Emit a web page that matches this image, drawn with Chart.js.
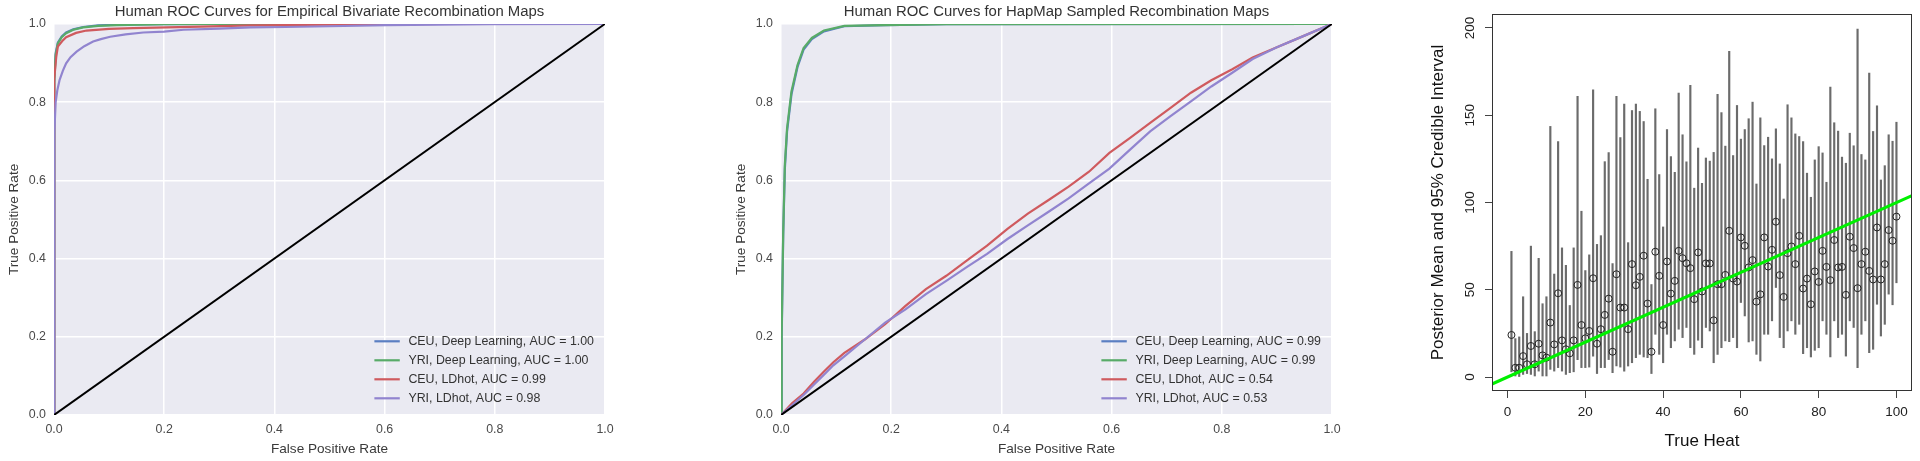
<!DOCTYPE html>
<html>
<head>
<meta charset="utf-8">
<script src="https://cdn.jsdelivr.net/npm/chart.js@4.4.1/dist/chart.umd.min.js"></script>
<style>
  html, body { margin: 0; padding: 0; background: #fff; }
  body { width: 1920px; height: 461px; position: relative; overflow: hidden; }
  .panel { position: absolute; top: 0; height: 461px; }
</style>
</head>
<body>
<div class="panel" style="left:0px; width:659px"><canvas id="empChart" width="659" height="461"></canvas></div>
<div class="panel" style="left:727px; width:659px"><canvas id="hapChart" width="659" height="461"></canvas></div>
<div class="panel" style="left:1390px; width:530px"><canvas id="heatChart" width="530" height="461"></canvas></div>
<script>
// ---------- ROC data: empirical bivariate maps ----------
const empCeuDLFpr = [0, 0, 0.001, 0.003, 0.007, 0.014, 0.022, 0.035, 0.053, 0.08, 0.114, 0.2, 0.3, 1];
const empCeuDLTpr = [0, 0.62, 0.86, 0.925, 0.952, 0.968, 0.978, 0.986, 0.992, 0.996, 0.998, 0.999, 1, 1];
const empYriDLFpr = [0, 0, 0.001, 0.003, 0.007, 0.014, 0.022, 0.035, 0.053, 0.08, 0.114, 0.2, 0.3, 1];
const empYriDLTpr = [0, 0.6, 0.85, 0.92, 0.95, 0.966, 0.976, 0.985, 0.991, 0.995, 0.997, 0.999, 1, 1];
const empCeuLDFpr = [0, 0, 0.001, 0.004, 0.007, 0.015, 0.022, 0.04, 0.059, 0.1, 0.144, 0.266, 0.357, 0.5, 0.7, 1];
const empCeuLDTpr = [0, 0.6, 0.86, 0.915, 0.942, 0.956, 0.966, 0.977, 0.983, 0.987, 0.989, 0.993, 0.996, 0.998, 1, 1];
const empYriLDFpr = [0, 0, 0.001, 0.003, 0.006, 0.010, 0.016, 0.022, 0.030, 0.041, 0.055, 0.071, 0.085, 0.102, 0.13, 0.162, 0.2, 0.235, 0.3, 0.357, 0.42, 0.5, 0.604, 0.79, 1];
const empYriLDTpr = [0, 0.5, 0.72, 0.80, 0.83, 0.856, 0.88, 0.899, 0.915, 0.929, 0.943, 0.955, 0.961, 0.967, 0.973, 0.978, 0.98, 0.985, 0.988, 0.991, 0.992, 0.994, 0.997, 0.999, 1];

// ---------- ROC data: HapMap sampled maps ----------
const hapCeuDLFpr = [0, 0.001, 0.0015, 0.004, 0.007, 0.011, 0.019, 0.030, 0.041, 0.056, 0.078, 0.115, 0.189, 0.3, 1];
const hapCeuDLTpr = [0, 0.1, 0.2, 0.46, 0.63, 0.725, 0.82, 0.89, 0.934, 0.961, 0.981, 0.994, 0.997, 0.999, 1];
const hapYriDLFpr = [0, 0.001, 0.0015, 0.004, 0.007, 0.011, 0.019, 0.030, 0.041, 0.056, 0.078, 0.115, 0.189, 0.3, 1];
const hapYriDLTpr = [0, 0.1, 0.21, 0.468, 0.64, 0.733, 0.827, 0.895, 0.938, 0.964, 0.983, 0.995, 0.997, 0.999, 1];
const hapLDFpr = [0, 0.02, 0.041, 0.06, 0.078, 0.095, 0.115, 0.152, 0.189, 0.226, 0.263, 0.3, 0.337, 0.374, 0.411, 0.448, 0.485, 0.522, 0.559, 0.596, 0.633, 0.670, 0.707, 0.744, 0.781, 0.819, 0.856, 0.9, 0.95, 1];
const hapCeuLDTpr = [0, 0.03, 0.055, 0.085, 0.111, 0.135, 0.159, 0.193, 0.232, 0.279, 0.322, 0.356, 0.395, 0.433, 0.476, 0.515, 0.549, 0.584, 0.622, 0.67, 0.708, 0.747, 0.785, 0.824, 0.856, 0.884, 0.914, 0.94, 0.97, 1];
const hapYriLDTpr = [0, 0.025, 0.051, 0.078, 0.103, 0.127, 0.15, 0.193, 0.236, 0.27, 0.309, 0.343, 0.378, 0.412, 0.45, 0.485, 0.519, 0.554, 0.592, 0.63, 0.678, 0.725, 0.764, 0.802, 0.84, 0.875, 0.91, 0.94, 0.97, 1];

const diagFpr = [0, 1];
const diagTpr = [0, 1];

const empLabels = ['CEU, Deep Learning, AUC = 1.00', 'YRI, Deep Learning, AUC = 1.00', 'CEU, LDhot, AUC = 0.99', 'YRI, LDhot, AUC = 0.98'];
const hapLabels = ['CEU, Deep Learning, AUC = 0.99', 'YRI, Deep Learning, AUC = 0.99', 'CEU, LDhot, AUC = 0.54', 'YRI, LDhot, AUC = 0.53'];
const rocColors = ['#5b7fc2', '#58ab68', '#cf5a5e', '#9184cf'];

// ---------- posterior credible intervals ----------
const trueHeat = [1,2,3,4,5,6,7,8,9,10,11,12,13,14,15,16,17,18,19,20,21,22,23,24,25,26,27,28,29,30,31,32,33,34,35,36,37,38,39,40,41,42,43,44,45,46,47,48,49,50,51,52,53,54,55,56,57,58,59,60,61,62,63,64,65,66,67,68,69,70,71,72,73,74,75,76,77,78,79,80,81,82,83,84,85,86,87,88,89,90,91,92,93,94,95,96,97,98,99,100];
const postMean = [24.1,5.3,5.3,12.0,7.3,17.8,7.3,19.1,12.4,11.1,31.2,18.7,48.0,21.0,15.9,13.6,21.0,52.8,29.8,22.2,
  26.4,56.6,19.1,27.4,35.6,44.9,14.5,58.9,39.8,39.8,27.4,64.7,52.6,57.4,69.5,42.1,14.5,71.8,58.0,29.8,
  66.2,47.8,55.1,72.3,68.1,65.2,62.4,44.6,71.4,49.0,65.1,65.1,32.5,53.2,53.2,58.5,83.8,56.4,54.7,80.0,
  75.2,62.8,67.0,43.2,47.4,80.0,63.3,72.9,89.0,58.4,45.9,71.0,74.8,64.7,80.9,50.7,56.4,41.7,60.5,54.5,
  72.3,63.1,55.5,78.5,62.8,63.1,47.1,80.4,73.9,50.9,64.7,71.8,60.8,55.9,85.7,55.9,64.7,84.2,78.1,91.9];
const ciLow = [3,0.6,0,1.5,2,1.5,0.6,3.4,0.6,0.6,4.4,3.4,5.4,3.4,1.5,2.5,3,10,5.4,5.4,
  5.7,12,2,5.4,5.4,10,2.5,6.3,5.7,3.4,6.3,8.2,11.1,13,11.5,11.1,2,24.5,13,8.2,
  24.5,16.8,20.7,27.4,22.6,28.4,16.8,13,21.1,16.8,28.4,26.4,8.2,13,16.8,20.7,20.3,22.6,16.8,42.7,
  35,20.1,20.7,13,9.2,24.5,24.5,32.2,51.3,22.6,16.8,26.4,32.2,24.5,30.2,13.4,16.8,11.5,15.3,16.8,
  32.2,24.5,11.5,32.2,22.6,24.5,12,32.2,28.4,5.4,24.5,32.2,14,15.9,41.7,23.5,30.2,47.5,41.4,54];
const ciHigh = [72,22,23,46,25,75,26,68,42,46,143.6,59,134.9,74,64,41,74,160.8,95,61,
  70,164.6,76,81,123.4,128.6,65,160.8,137.2,156.4,77,152.7,156.4,152.2,146.4,113.3,53,153.7,116,86,
  141.8,126.3,117.3,162.7,138.8,123.3,167.1,108.2,131.2,111,125.5,123.7,128.7,162,151.5,132.3,186.6,126.9,155.6,136.3,
  141.8,148,157.5,110.6,148.5,132.6,137.4,125,142.2,122.1,102,156,148.5,139.3,137.8,134.9,116.8,103,124.4,132,
  128.4,111.6,166.1,145.7,140.9,126,122.5,139.7,132.5,199.4,127.5,124.4,174.2,140.7,155.4,112.9,121.1,138.8,135.1,146];
// reference line y = x, end points at the plot limits
const abX = [-4, 104];
const abY = [-4, 104];

const FONT = "'Liberation Sans', Arial, Helvetica, sans-serif";
Chart.defaults.font.family = FONT;
Chart.defaults.animation = false;

// seaborn style grey panel
const panelBg = {
  id: 'panelBg',
  beforeDraw(chart) {
    const a = chart.chartArea;
    chart.ctx.save();
    chart.ctx.fillStyle = '#eaeaf2';
    chart.ctx.fillRect(a.left, a.top, a.right - a.left, a.bottom - a.top);
    chart.ctx.restore();
  }
};

// matplotlib-like legend in the lower right corner of the axes
const rocLegend = {
  id: 'rocLegend',
  afterDraw(chart) {
    const {ctx, chartArea} = chart;
    const sets = chart.data.datasets.filter(d => d.label);
    ctx.save();
    ctx.font = '12.4px ' + FONT;
    const widest = Math.max(...sets.map(d => ctx.measureText(d.label).width));
    const textX = chartArea.right - 11 - widest;
    sets.forEach((d, i) => {
      const y = chartArea.bottom - 16.7 - (sets.length - 1 - i) * 19;
      ctx.strokeStyle = d.borderColor;
      ctx.lineWidth = 2.2;
      ctx.beginPath();
      ctx.moveTo(textX - 34, y);
      ctx.lineTo(textX - 8.6, y);
      ctx.stroke();
      ctx.fillStyle = '#333';
      ctx.textBaseline = 'middle';
      ctx.fillText(d.label, textX, y);
    });
    ctx.restore();
  }
};

function rocChart(id, title, labels, fprs, tprs) {
  const datasets = labels.map((lab, i) => ({
    label: lab,
    data: fprs[i].map((x, j) => ({x: x, y: tprs[i][j]})),
    borderColor: rocColors[i],
    borderWidth: 2.2,
    showLine: true,
    pointRadius: 0,
    order: labels.length - i
  }));
  datasets.push({
    label: '',
    data: diagFpr.map((x, j) => ({x: x, y: diagTpr[j]})),
    borderColor: '#000',
    borderWidth: 2,
    showLine: true,
    pointRadius: 0,
    order: 0
  });
  const axisTicks = {stepSize: 0.2, color: '#4a4a4a', font: {size: 12.4}, callback: v => v.toFixed(1)};
  return new Chart(document.getElementById(id), {
    type: 'scatter',
    data: {datasets: datasets},
    options: {
      responsive: false,
      layout: {padding: {left: 0, right: 54, top: 0, bottom: 0}},
      plugins: {
        legend: {display: false},
        tooltip: {enabled: false},
        title: {display: true, fullSize: false, text: title, color: '#333',
          font: {size: 14.9, weight: 'normal'}, padding: {top: 3, bottom: 3}}
      },
      scales: {
        x: {
          type: 'linear', min: 0, max: 1,
          ticks: Object.assign({padding: 7}, axisTicks),
          grid: {color: '#fff', lineWidth: 1.5, drawTicks: false},
          border: {display: false},
          title: {display: true, text: 'False Positive Rate', color: '#3a3a3a', font: {size: 13.6}, padding: {top: 0, bottom: 4}},
          afterFit(s) { s.height = 46; }
        },
        y: {
          type: 'linear', min: 0, max: 1,
          ticks: Object.assign({padding: 8}, axisTicks),
          grid: {color: '#fff', lineWidth: 1.5, drawTicks: false},
          border: {display: false},
          title: {display: true, text: 'True Positive Rate', color: '#3a3a3a', font: {size: 13.6}, padding: {top: 6, bottom: 0}},
          afterFit(s) { s.width = 54; }
        }
      }
    },
    plugins: [panelBg, rocLegend]
  });
}

rocChart('empChart', 'Human ROC Curves for Empirical Bivariate Recombination Maps', empLabels,
  [empCeuDLFpr, empYriDLFpr, empCeuLDFpr, empYriLDFpr],
  [empCeuDLTpr, empYriDLTpr, empCeuLDTpr, empYriLDTpr]);

rocChart('hapChart', 'Human ROC Curves for HapMap Sampled Recombination Maps', hapLabels,
  [hapCeuDLFpr, hapYriDLFpr, hapLDFpr, hapLDFpr],
  [hapCeuDLTpr, hapYriDLTpr, hapCeuLDTpr, hapYriLDTpr]);

// ---------- R style panel ----------
const frameBox = {
  id: 'frameBox',
  afterDraw(chart) {
    const a = chart.chartArea;
    const ctx = chart.ctx;
    ctx.save();
    ctx.strokeStyle = '#333';
    ctx.lineWidth = 1;
    ctx.strokeRect(a.left + 0.5, a.top + 0.5, a.right - a.left - 1, a.bottom - a.top - 1);
    ctx.restore();
  }
};

new Chart(document.getElementById('heatChart'), {
  type: 'bar',
  data: {
    datasets: [
      {
        type: 'line',
        data: abX.map((x, i) => ({x: x, y: abY[i]})),
        borderColor: '#00f000',
        borderWidth: 3,
        pointRadius: 0,
        clip: 0,
        order: 0
      },
      {
        type: 'scatter',
        data: trueHeat.map((x, i) => ({x: x, y: postMean[i]})),
        pointRadius: 3.5,
        pointBorderWidth: 1,
        borderColor: '#222',
        backgroundColor: 'rgba(0,0,0,0)',
        order: 1
      },
      {
        type: 'bar',
        data: trueHeat.map((x, i) => ({x: x, y: [ciLow[i], ciHigh[i]]})),
        backgroundColor: '#6b6b6b',
        barThickness: 1.5,
        order: 2
      }
    ]
  },
  options: {
    responsive: false,
    layout: {padding: {left: 0, right: 8, top: 14, bottom: 0}},
    plugins: {legend: {display: false}, tooltip: {enabled: false}},
    scales: {
      x: {
        type: 'linear', min: -4, max: 104, offset: false,
        ticks: {stepSize: 20, includeBounds: false, color: '#222', font: {size: 13.5}, padding: 6},
        grid: {display: true, offset: false, drawOnChartArea: false, drawTicks: true, tickLength: 7, tickColor: '#444'},
        border: {display: false},
        title: {display: true, text: 'True Heat', color: '#111', font: {size: 17}, padding: {top: 0, bottom: 9}},
        afterFit(s) { s.height = 70; }
      },
      y: {
        type: 'linear', min: -8, max: 208,
        ticks: {stepSize: 50, includeBounds: false, color: '#222', font: {size: 13.5}, padding: 3,
          minRotation: 90, maxRotation: 90, crossAlign: 'center'},
        grid: {display: true, drawOnChartArea: false, drawTicks: true, tickLength: 7, tickColor: '#444'},
        border: {display: false},
        title: {display: true, text: 'Posterior Mean and 95% Credible Interval', color: '#111', font: {size: 17}, padding: {top: 38, bottom: 0}},
        afterFit(s) { s.width = 102; }
      }
    }
  },
  plugins: [frameBox]
});
</script>
</body>
</html>
